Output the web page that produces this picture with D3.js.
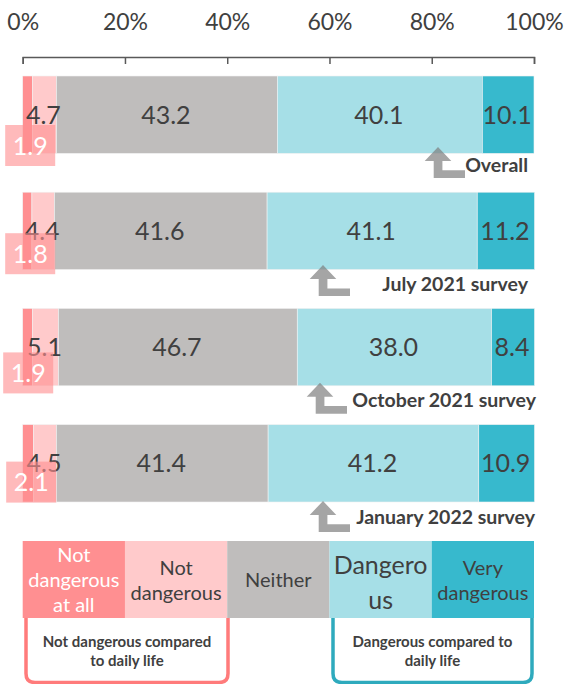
<!DOCTYPE html>
<html>
<head>
<meta charset="utf-8">
<script src="https://cdn.jsdelivr.net/npm/d3@7"></script>
<style>
  html, body { margin: 0; padding: 0; background: #fff; }
  svg { display: block; }
  text { font-family: Lato, "Open Sans", sans-serif; }
</style>
</head>
<body>
<svg id="chart" width="568" height="684"></svg>
<script>
// ---- data ----
const categories = ["Overall", "July 2021 survey", "October 2021 survey", "January 2022 survey"];
const levels = ["Not dangerous at all", "Not dangerous", "Neither", "Dangerous", "Very dangerous"];
const notDangerousAtAll = [1.9, 1.8, 1.9, 2.1];
const notDangerous = [4.7, 4.4, 5.1, 4.5];
const neither = [43.2, 41.6, 46.7, 41.4];
const dangerous = [40.1, 41.1, 38.0, 41.2];
const veryDangerous = [10.1, 11.2, 8.4, 10.9];
const tickValues = [0, 20, 40, 60, 80, 100];
const legendLines = [["Not", "dangerous", "at all"], ["Not", "dangerous"], ["Neither"], ["Dangero", "us"], ["Very", "dangerous"]];
const groupLabels = [["Not dangerous compared", "to daily life"], ["Dangerous compared to", "daily life"]];

// ---- layout / style ----
const colors = ["#ff8f91", "#ffcacb", "#bfbdbc", "#a6dfe7", "#37b9cd"];
const textDark = "#404040";
const calloutDx = [-17.5, -17.5, -19.5, -16.5];
const calloutDy = [49, 41, 44, 37];
const arrowTipX = [438, 323, 320, 323];
const arrowTipDy = [-6.5, -4.5, -3, -1];
const noteRightX = [528, 528, 536, 535];
const noteDy = [12, 14, 14.5, 15];

const svg = d3.select("#chart");
const x = d3.scaleLinear().domain([0, 100]).range([22.7, 534]);
const y = d3.scaleBand().domain(categories).range([76, 502]).paddingInner(0.334).paddingOuter(0);

const table = categories.map((c, i) => ({
  category: c,
  [levels[0]]: notDangerousAtAll[i],
  [levels[1]]: notDangerous[i],
  [levels[2]]: neither[i],
  [levels[3]]: dangerous[i],
  [levels[4]]: veryDangerous[i]
}));
const series = d3.stack().keys(levels)(table);
const color = d3.scaleOrdinal().domain(levels).range(colors);

// ---- axis ----
const axis = d3.axisTop(x).tickValues(tickValues).tickFormat(d => d + "%")
  .tickSizeInner(-7).tickSizeOuter(-7).tickPadding(27);
const gAxis = svg.append("g").attr("transform", "translate(0,57)").call(axis);
gAxis.select(".domain").attr("stroke", "#595959").attr("stroke-width", 1.5);
gAxis.selectAll(".tick line").attr("stroke", "#595959").attr("stroke-width", 1.5);
gAxis.selectAll(".tick text").attr("fill", textDark).style("font-size", "23px")
  .style("font-family", "Lato, 'Open Sans', sans-serif");

// ---- bars ----
const gBars = svg.append("g");
series.forEach(s => {
  gBars.append("g").attr("fill", color(s.key))
    .selectAll("rect").data(s).join("rect")
    .attr("x", d => x(d[0]))
    .attr("y", d => y(d.data.category))
    .attr("width", d => x(d[1]) - x(d[0]))
    .attr("height", y.bandwidth());
});
gBars.selectAll("g rect").attr("stroke", "#f2f2f2").attr("stroke-width", 0.6);

// ---- value labels (levels 1..4) ----
series.slice(1).forEach(s => {
  svg.append("g").selectAll("text").data(s).join("text")
    .attr("x", d => (x(d[0]) + x(d[1])) / 2 - 1)
    .attr("y", d => y(d.data.category) + y.bandwidth() / 2)
    .attr("dy", "0.36em")
    .attr("text-anchor", "middle")
    .attr("fill", textDark)
    .style("font-size", "25px")
    .text(d => (d[1] - d[0]).toFixed(1));
});

// ---- callout boxes for level 0 ----
const gCall = svg.append("g");
series[0].forEach((d, i) => {
  const bx = x(0) + calloutDx[i];
  const by = y(d.data.category) + calloutDy[i];
  gCall.append("rect").attr("x", bx).attr("y", by).attr("width", 50).attr("height", 41)
    .attr("fill", "#ff8f92").attr("fill-opacity", 0.62);
  gCall.append("text").attr("x", bx + 25).attr("y", by + 20.5).attr("dy", "0.36em")
    .attr("text-anchor", "middle").attr("fill", "#fff").style("font-size", "25px")
    .text((d[1] - d[0]).toFixed(1));
});

// ---- survey notes with arrows ----
const arrowShape = [[0, 0], [13.3, 14], [4.4, 14], [4.4, 23.3], [27, 23.3], [27, 31], [-4.3, 31], [-4.3, 14], [-13.3, 14]];
categories.forEach((c, i) => {
  const bottom = y(c) + y.bandwidth();
  const tx = arrowTipX[i], ty = bottom + arrowTipDy[i];
  svg.append("path")
    .attr("d", "M" + arrowShape.map(p => (tx + p[0]) + "," + (ty + p[1])).join("L") + "Z")
    .attr("fill", "#7f7f7f").attr("fill-opacity", 0.7);
  svg.append("text").attr("x", noteRightX[i]).attr("y", bottom + noteDy[i]).attr("dy", "0.36em")
    .attr("text-anchor", "end").attr("fill", textDark)
    .style("font-size", "19.5px").style("font-weight", "bold")
    .text(c);
});

// ---- legend ----
const legTop = 541, legBottom = 618;
const gLeg = svg.append("g");
levels.forEach((lv, i) => {
  const x0 = x(i * 20), x1 = x((i + 1) * 20);
  gLeg.append("rect").attr("x", x0).attr("y", legTop).attr("width", x1 - x0).attr("height", legBottom - legTop)
    .attr("fill", color(lv));
  const lines = legendLines[i];
  const big = i === 3;
  const fs = big ? 25 : 20;
  const lh = big ? 35 : 25;
  const cy = (legTop + legBottom) / 2 + (i === 1 || i === 4 ? 1 : 0) + (i === 0 ? 0.5 : 0) + (big ? 3 : 0);
  lines.forEach((t, k) => {
    gLeg.append("text")
      .attr("x", (x0 + x1) / 2)
      .attr("y", cy + (k - (lines.length - 1) / 2) * lh)
      .attr("dy", "0.36em")
      .attr("text-anchor", "middle")
      .attr("fill", i === 0 ? "#fff" : textDark)
      .style("font-size", fs + "px")
      .text(t);
  });
});

// ---- brackets ----
const brackets = [
  { x0: 26, x1: 228, stroke: "#ff7b7b", labels: groupLabels[0] },
  { x0: 333, x1: 532, stroke: "#2eaabd", labels: groupLabels[1] }
];
const bBottom = 682.5, r = 9;
brackets.forEach(b => {
  svg.append("path")
    .attr("d", `M${b.x0},${legBottom} L${b.x0},${bBottom - r} Q${b.x0},${bBottom} ${b.x0 + r},${bBottom} L${b.x1 - r},${bBottom} Q${b.x1},${bBottom} ${b.x1},${bBottom - r} L${b.x1},${legBottom}`)
    .attr("fill", "none").attr("stroke", b.stroke).attr("stroke-width", 3.5);
  b.labels.forEach((t, k) => {
    svg.append("text").attr("x", (b.x0 + b.x1) / 2).attr("y", 641.5 + k * 19.5).attr("dy", "0.36em")
      .attr("text-anchor", "middle").attr("fill", textDark)
      .style("font-size", "15px").style("font-weight", "bold").text(t);
  });
});
</script>
</body>
</html>
